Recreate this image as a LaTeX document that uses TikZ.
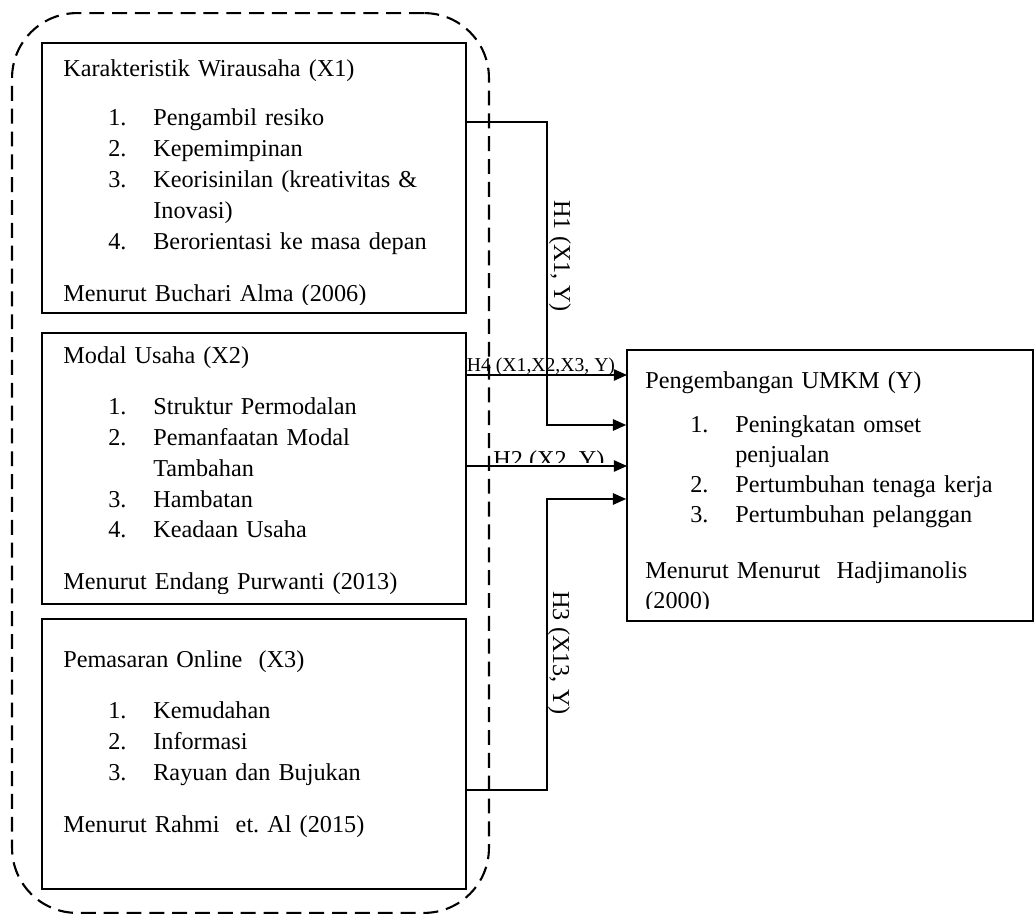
\documentclass[tikz,border=0pt]{standalone}
\usepackage{fontspec}
\setmainfont{Liberation Serif}
\usetikzlibrary{positioning}
\usetikzlibrary{arrows.meta}

\newcommand{\listItem}[2]{\hspace*{0.9cm}\makebox[0.9cm][l]{#1}#2}

\begin{document}
\begin{tikzpicture}[x=0.02cm, y=-0.02cm,
	varBox/.style={rectangle, draw, line width=1pt, minimum width=8.48cm, minimum height=5.4cm},
	boxText/.style={anchor=base west, inner sep=0pt, text width=8cm, align=left, font={\fontsize{13.8}{17.6}\selectfont}},
	linkArrow/.style={line width=0.8pt, -{Triangle[length=7.5pt, width=6.5pt]}},
	hypLabel/.style={inner sep=0pt, font={\fontsize{13.8}{16}\selectfont}}]
	\useasboundingbox (0,0) rectangle (1036,915);

	\node[rectangle, draw, line width=1.2pt, dash pattern=on 8.5pt off 4.5pt, rounded corners=1.3cm, minimum width=9.54cm, minimum height=18cm](groupBox) at (250.5,463){};

	\node[varBox](x1Box) at (254,178){};
	\node[varBox, minimum height=5.42cm](x2Box) at (254,468.5){};
	\node[varBox](x3Box) at (254,754){};
	\node[varBox, minimum width=8.12cm, minimum height=5.42cm](yBox) at (830,485.5){};

	\begin{scope}
		\clip (x1Box.north west) rectangle ([yshift=0.18cm]x1Box.south east);
		\node[boxText](x1Text) at (63,77){Karakteristik Wirausaha (X1)\\[10pt]
			\listItem{1.}{Pengambil resiko}\\
			\listItem{2.}{Kepemimpinan}\\
			\listItem{3.}{Keorisinilan (kreativitas \&}\\
			\hspace*{1.8cm}Inovasi)\\
			\listItem{4.}{Berorientasi ke masa depan}\\[12pt]
			Menurut Buchari Alma (2006)};
	\end{scope}
	\begin{scope}
		\clip (x2Box.north west) rectangle ([yshift=0.22cm]x2Box.south east);
		\node[boxText](x2Text) at (63,364){Modal Usaha (X2)\\[11pt]
			\listItem{1.}{Struktur Permodalan}\\
			\listItem{2.}{Pemanfaatan Modal}\\
			\hspace*{1.8cm}Tambahan\\
			\listItem{3.}{Hambatan}\\
			\listItem{4.}{Keadaan Usaha}\\[12pt]
			Menurut Endang Purwanti (2013)};
	\end{scope}
	\node[boxText](x3Text) at (63,668){Pemasaran Online\ \ (X3)\\[11pt]
		\listItem{1.}{Kemudahan}\\
		\listItem{2.}{Informasi}\\
		\listItem{3.}{Rayuan dan Bujukan}\\[12pt]
		Menurut Rahmi\ \ et.\ Al (2015)};
	\begin{scope}
		\clip (yBox.north west) rectangle ([yshift=0.26cm]yBox.south east);
		\node[boxText, font={\fontsize{13.8}{17}\selectfont}](yText) at (645,389){Pengembangan UMKM (Y)\\[8pt]
			\listItem{1.}{Peningkatan omset}\\
			\hspace*{1.8cm}penjualan\\
			\listItem{2.}{Pertumbuhan tenaga kerja}\\
			\listItem{3.}{Pertumbuhan pelanggan}\\[15pt]
			Menurut Menurut\ \ Hadjimanolis\\
			(2000)};
	\end{scope}

	\coordinate (h1Turn) at (547,122);
	\coordinate (h1Down) at (547,425);
	\coordinate (h3Turn) at (547,790);
	\coordinate (h3Up) at (547,499);
	\coordinate (h4In) at (627,375);
	\coordinate (h2In) at (627,466);
	\draw[linkArrow] (x1Box.east |- h1Turn) -- (h1Turn) -- (h1Down) -- (yBox.west |- h1Down);
	\draw[linkArrow] (x2Box.east |- h4In) -- (h4In);
	\draw[linkArrow] (x2Box.east |- h2In) -- (h2In);
	\draw[linkArrow] (x3Box.east |- h3Turn) -- (h3Turn) -- (h3Up) -- (yBox.west |- h3Up);

	\node[hypLabel, rotate=-90](h1Label) at (560,256){H1 (X1, Y)};
	\node[hypLabel, rotate=-90](h3Label) at (559,653){H3 (X13, Y)};
	\node[hypLabel, anchor=south, font={\fontsize{11.2}{13}\selectfont}](h4Label) at (541,376){H4 (X1,X2,X3, Y)};
	\begin{scope}
		\clip (480,440) rectangle (620,463);
		\node[hypLabel, anchor=base](h2Label) at (549,468){H2 (X2, Y)};
	\end{scope}
\end{tikzpicture}
\end{document}
